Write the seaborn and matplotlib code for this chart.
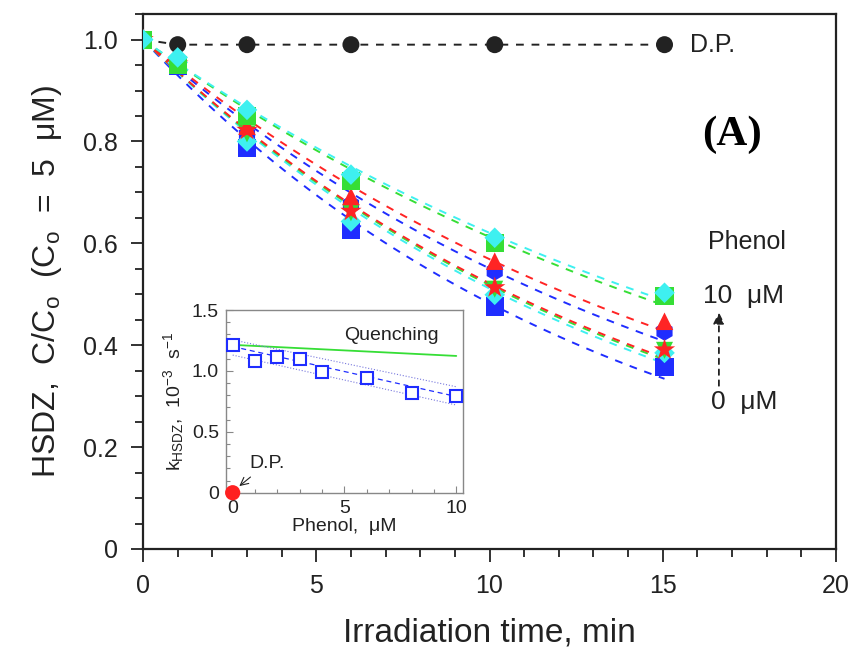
import numpy as np
import matplotlib
matplotlib.use("Agg")
import matplotlib.pyplot as plt
import seaborn as sns
from matplotlib.ticker import MultipleLocator

# Irradiation times (min)
times = [0, 1, 3, 6, 10.15, 15.05]

# HSDZ C/Co for each phenol concentration
c_dp = [1.0, 0.99, 0.99, 0.99, 0.99, 0.99]
c_0uM = [1.0, 0.948, 0.788, 0.627, 0.476, 0.358]
c_1uM = [1.0, 0.952, 0.822, 0.663, 0.513, 0.391]
c_2uM = [1.0, 0.955, 0.800, 0.643, 0.499, 0.385]
c_3uM = [1.0, 0.950, 0.815, 0.660, 0.510, 0.390]
c_4uM = [1.0, 0.955, 0.813, 0.676, 0.545, 0.427]
c_6uM = [1.0, 0.958, 0.830, 0.692, 0.565, 0.447]
c_8uM = [1.0, 0.950, 0.850, 0.722, 0.601, 0.496]
c_10uM = [1.0, 0.965, 0.862, 0.735, 0.611, 0.503]

# inset: rate constants, 10^-3 s^-1
phenol = [0, 1, 2, 3, 4, 6, 8, 10]
k_hsdz = [1.214, 1.085, 1.118, 1.096, 0.994, 0.940, 0.817, 0.795]
k_err = [0.03, 0.025, 0.03, 0.025, 0.03, 0.03, 0.025, 0.025]
fit_x = [0, 10]
k_fit = [1.20, 0.79]
k_upper = [1.255, 0.87]
k_lower = [1.13, 0.72]
quench_k = [1.214, 1.123]

sns.set_theme(style="ticks")
plt.rcParams['font.family'] = ['Liberation Sans', 'DejaVu Sans']
plt.rcParams['mathtext.fontset'] = 'custom'
plt.rcParams['mathtext.rm'] = 'Liberation Sans'
plt.rcParams['mathtext.it'] = 'Liberation Sans:italic'

BLUE = '#1f2dff'
RED = '#ff2424'
GREEN = '#36de36'
CYAN = '#3ef0f0'

fig = plt.figure(figsize=(8.55, 6.62), dpi=100)
ax = fig.add_axes([0.1673, 0.1707, 0.8105, 0.808])

# (conc, data, color, marker, size) in drawing order
series = [
    (0, c_0uM, BLUE, 's', 170),
    (4, c_4uM, BLUE, 'h', 180),
    (2, c_2uM, CYAN, 'D', 110),
    (3, c_3uM, GREEN, 'v', 150),
    (6, c_6uM, RED, '^', 160),
    (1, c_1uM, RED, '*', 260),
    (8, c_8uM, GREEN, 's', 170),
    (10, c_10uM, CYAN, 'D', 110),
]

t_fit = np.linspace(0, times[-1], 80)
for conc, vals, col, mk, sz in series:
    k = k_hsdz[phenol.index(conc)]
    sns.lineplot(x=t_fit, y=np.exp(-k * 60 / 1000 * t_fit), ax=ax, color=col,
                 lw=1.4, linestyle=(0, (4, 4)), zorder=2)
for i, (conc, vals, col, mk, sz) in enumerate(series):
    sns.scatterplot(x=times, y=vals, ax=ax, color=col, marker=mk, s=sz,
                    edgecolor='none', linewidth=0, zorder=3 + i)

# dark control
sns.lineplot(x=times, y=c_dp, ax=ax, color='#222222', lw=1.4,
             linestyle=(0, (4, 4)), zorder=2)
sns.scatterplot(x=times[1:], y=c_dp[1:], ax=ax, color='#222222', marker='o',
                s=150, edgecolor='none', zorder=3)

ax.set_xlim(0, 20)
ax.set_ylim(0, 1.05)
ax.xaxis.set_major_locator(MultipleLocator(5))
ax.xaxis.set_minor_locator(MultipleLocator(1))
ax.yaxis.set_minor_locator(MultipleLocator(0.05))
ax.set_yticks([0, 0.2, 0.4, 0.6, 0.8, 1.0])
ax.set_yticklabels(['0', '0.2', '0.4', '0.6', '0.8', '1.0'])
ax.tick_params(which='major', direction='out', length=9, width=1.3,
               labelsize=18, pad=9, color='#222222', labelcolor='#222222')
ax.tick_params(which='minor', direction='out', length=5.5, width=1.3,
               color='#222222')
for sp in ax.spines.values():
    sp.set_linewidth(1.6)
    sp.set_color('#222222')

ax.set_xlabel('Irradiation time, min', fontsize=24, labelpad=14, color='#222222')
ax.set_ylabel(r'HSDZ,  C/C$_\mathregular{o}$  (C$_\mathregular{o}$  =  5  μM)',
              fontsize=23, labelpad=14, color='#222222')

ax.text(15.8, 0.99, 'D.P.', fontsize=18, va='center', ha='left', color='#222222')
ax.text(17.0, 0.813, '(A)', fontsize=31, fontweight='bold', family='Liberation Serif',
        ha='center', va='center', color='black')
ax.text(16.3, 0.603, 'Phenol', fontsize=18, ha='left', va='center', color='#222222')
ax.text(16.15, 0.497, '10  μM', fontsize=19, ha='left', va='center', color='#222222')
ax.text(16.4, 0.289, '0  μM', fontsize=19, ha='left', va='center', color='#222222')
ax.annotate('', xy=(16.62, 0.47), xytext=(16.62, 0.315),
            arrowprops=dict(arrowstyle='-|>', linestyle=(0, (3, 3)), lw=1.3,
                            color='#222222', mutation_scale=17))

# inset
ins = fig.add_axes([0.2643, 0.2557, 0.2772, 0.276])
sns.lineplot(x=fit_x, y=quench_k, ax=ins, color=GREEN, lw=1.3)
sns.lineplot(x=fit_x, y=k_fit, ax=ins, color=BLUE, lw=0.9, linestyle=(0, (4, 3)))
sns.lineplot(x=fit_x, y=k_upper, ax=ins, color='#7777dd', lw=0.8, linestyle=':')
sns.lineplot(x=fit_x, y=k_lower, ax=ins, color='#7777dd', lw=0.8, linestyle=':')
ins.errorbar(phenol, k_hsdz, yerr=k_err, fmt='s', mfc='white', mec=BLUE, mew=1.5,
             ms=8, ecolor=BLUE, elinewidth=0.8, capsize=2, zorder=4)
sns.scatterplot(x=[0], y=[0], ax=ins, color='#ff2020', s=120, edgecolor='none',
                clip_on=False, zorder=5)
ins.annotate('D.P.', xy=(0.2, 0.04), xytext=(0.75, 0.24), fontsize=14,
             color='#222222', va='center',
             arrowprops=dict(arrowstyle='->', lw=0.8, color='#222222',
                             shrinkA=2, shrinkB=2))
ins.text(5.0, 1.29, 'Quenching', fontsize=14, ha='left', va='center', color='#222222')

ins.set_xlim(-0.3, 10.3)
ins.set_ylim(0, 1.5)
ins.xaxis.set_major_locator(MultipleLocator(5))
ins.xaxis.set_minor_locator(MultipleLocator(1))
ins.yaxis.set_minor_locator(MultipleLocator(0.1))
ins.set_yticks([0, 0.5, 1.0, 1.5])
ins.set_yticklabels(['0', '0.5', '1.0', '1.5'])
ins.tick_params(which='major', direction='in', length=5, width=0.8, labelsize=14,
                pad=5, color='#888888', labelcolor='#222222')
ins.tick_params(which='minor', direction='in', length=3, width=0.8, color='#888888')
for sp in ins.spines.values():
    sp.set_linewidth(1.0)
    sp.set_color('#888888')
ins.set_xlabel('Phenol,  μM', fontsize=14, labelpad=1, color='#222222')
ins.set_ylabel(r'k$_\mathregular{HSDZ}$,  10$^\mathregular{-3}$  s$^\mathregular{-1}$',
               fontsize=14, labelpad=4, color='#222222')

fig.savefig('out.png', dpi=100)
